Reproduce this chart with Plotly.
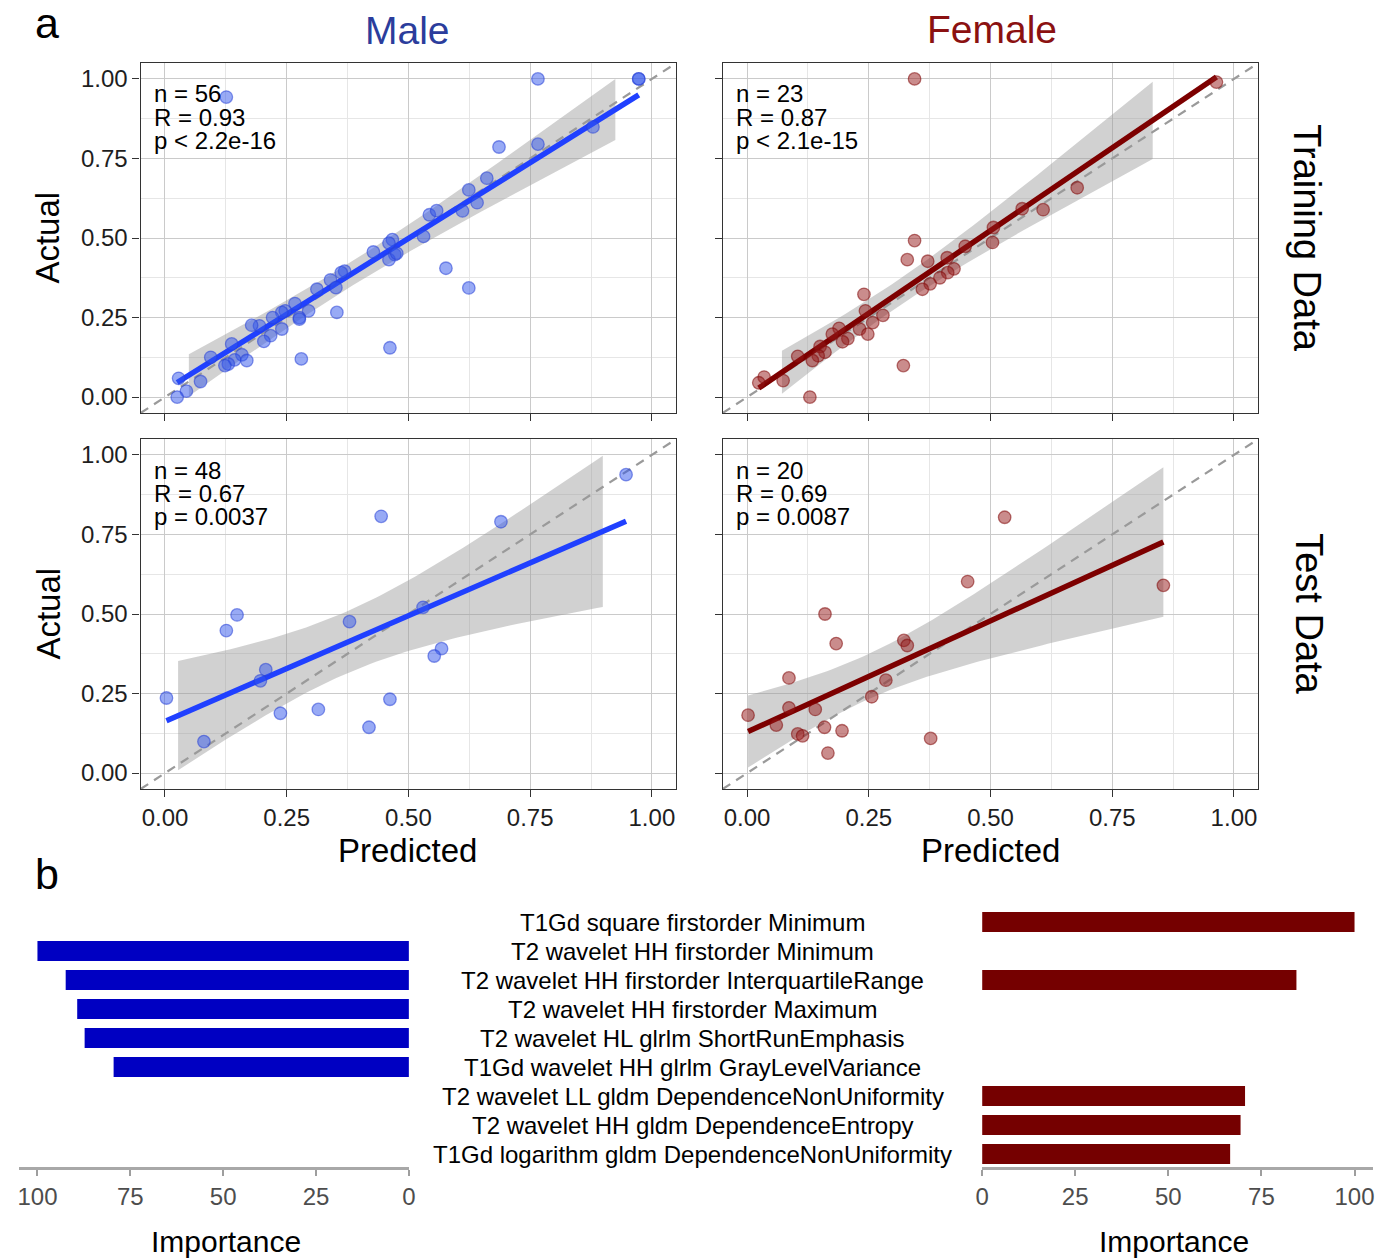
import numpy as np
import plotly.graph_objects as go

W, H = 1395, 1259
FONT = "Liberation Sans, Arial, sans-serif"

# ---------------- DATA ----------------
male_train_pred = [0.126, 0.766, 0.973, 0.973, 0.686, 0.766, 0.879, 0.661, 0.624, 0.641,
                   0.611, 0.543, 0.558, 0.531, 0.577, 0.624, 0.467, 0.460, 0.472, 0.460,
                   0.428, 0.462, 0.369, 0.362, 0.340, 0.351, 0.312, 0.353, 0.295, 0.267,
                   0.276, 0.276, 0.247, 0.240, 0.221, 0.240, 0.217, 0.203, 0.194, 0.178,
                   0.280, 0.137, 0.158, 0.143, 0.130, 0.123, 0.168, 0.094, 0.073, 0.028,
                   0.044, 0.025, 0.476]
male_train_act = [0.943, 1.000, 1.000, 1.000, 0.786, 0.795, 0.849, 0.688, 0.651, 0.611,
                  0.585, 0.573, 0.586, 0.505, 0.405, 0.343, 0.495, 0.484, 0.448, 0.432,
                  0.456, 0.155, 0.396, 0.391, 0.368, 0.344, 0.339, 0.266, 0.271, 0.294,
                  0.250, 0.245, 0.271, 0.266, 0.250, 0.214, 0.193, 0.175, 0.224, 0.226,
                  0.120, 0.167, 0.133, 0.117, 0.104, 0.099, 0.115, 0.125, 0.049, 0.059,
                  0.019, 0.000, 0.452]

female_train_pred = [0.344, 0.964, 0.678, 0.608, 0.565, 0.506, 0.504, 0.448, 0.344, 0.329,
                     0.371, 0.411, 0.425, 0.412, 0.396, 0.376, 0.360, 0.240, 0.243, 0.279,
                     0.258, 0.231, 0.248, 0.189, 0.175, 0.207, 0.196, 0.321, 0.150, 0.160,
                     0.146, 0.134, 0.104, 0.074, 0.035, 0.024, 0.129]
female_train_act = [1.000, 0.990, 0.658, 0.589, 0.592, 0.533, 0.486, 0.474, 0.492, 0.432,
                    0.427, 0.438, 0.403, 0.391, 0.375, 0.356, 0.339, 0.323, 0.271, 0.257,
                    0.234, 0.214, 0.198, 0.216, 0.198, 0.184, 0.174, 0.099, 0.159, 0.141,
                    0.130, 0.115, 0.128, 0.052, 0.063, 0.045, 0.000]

male_test_pred = [0.947, 0.444, 0.690, 0.530, 0.379, 0.148, 0.126, 0.568, 0.553, 0.207,
                  0.196, 0.003, 0.462, 0.237, 0.315, 0.419, 0.080]
male_test_act = [0.938, 0.807, 0.790, 0.521, 0.476, 0.497, 0.448, 0.391, 0.368, 0.325,
                 0.290, 0.236, 0.232, 0.188, 0.200, 0.144, 0.099]

female_test_pred = [0.529, 0.453, 0.855, 0.160, 0.183, 0.322, 0.329, 0.086, 0.285, 0.256,
                    0.086, 0.140, 0.002, 0.060, 0.159, 0.195, 0.104, 0.114, 0.377, 0.166]
female_test_act = [0.804, 0.602, 0.590, 0.500, 0.407, 0.417, 0.401, 0.299, 0.292, 0.240,
                   0.205, 0.200, 0.182, 0.151, 0.144, 0.133, 0.123, 0.117, 0.109, 0.063]

stats_n = ["n = 56", "n = 23", "n = 48", "n = 20"]
stats_r = ["R = 0.93", "R = 0.87", "R = 0.67", "R = 0.69"]
stats_p = ["p < 2.2e-16", "p < 2.1e-15", "p = 0.0037", "p = 0.0087"]

axis_ticks = [0.0, 0.25, 0.5, 0.75, 1.0]
axis_minor = [0.125, 0.375, 0.625, 0.875]

features = ["T1Gd square firstorder Minimum",
            "T2 wavelet HH firstorder Minimum",
            "T2 wavelet HH firstorder InterquartileRange",
            "T2 wavelet HH firstorder Maximum",
            "T2 wavelet HL glrlm ShortRunEmphasis",
            "T1Gd wavelet HH glrlm GrayLevelVariance",
            "T2 wavelet LL gldm DependenceNonUniformity",
            "T2 wavelet HH gldm DependenceEntropy",
            "T1Gd logarithm gldm DependenceNonUniformity"]
male_features = ["T2 wavelet HH firstorder Minimum",
                 "T2 wavelet HH firstorder InterquartileRange",
                 "T2 wavelet HH firstorder Maximum",
                 "T2 wavelet HL glrlm ShortRunEmphasis",
                 "T1Gd wavelet HH glrlm GrayLevelVariance"]
male_importance = [100.0, 92.4, 89.3, 87.3, 79.5]
female_features = ["T1Gd square firstorder Minimum",
                   "T2 wavelet HH firstorder InterquartileRange",
                   "T2 wavelet LL gldm DependenceNonUniformity",
                   "T2 wavelet HH gldm DependenceEntropy",
                   "T1Gd logarithm gldm DependenceNonUniformity"]
female_importance = [100.0, 84.4, 70.6, 69.4, 66.6]
importance_ticks = [0, 25, 50, 75, 100]

# ---------------- STYLE ----------------
MALE_PT = "rgba(50,85,235,0.5)"
MALE_PT_LINE = "rgba(40,65,215,0.55)"
MALE_LINE = "#2040ff"
FEMALE_PT = "rgba(150,25,25,0.5)"
FEMALE_PT_LINE = "rgba(130,10,10,0.55)"
FEMALE_LINE = "#7d0000"
MALE_TITLE = "#2b3d9c"
FEMALE_TITLE = "#8b1111"
MALE_BAR = "#0000c2"
FEMALE_BAR = "#750000"


def px(xp):
    return xp / W


def py(yp):
    return 1 - yp / H


def t975(df):
    z = 1.959964
    g1 = (z ** 3 + z) / 4
    g2 = (5 * z ** 5 + 16 * z ** 3 + 3 * z) / 96
    g3 = (3 * z ** 7 + 19 * z ** 5 + 17 * z ** 3 - 15 * z) / 384
    return z + g1 / df + g2 / df ** 2 + g3 / df ** 3


def fit_band(x, y):
    x = np.asarray(x, float)
    y = np.asarray(y, float)
    n = len(x)
    b, a = np.polyfit(x, y, 1)
    xg = np.linspace(x.min(), x.max(), 80)
    yh = a + b * xg
    res = y - (a + b * x)
    s = np.sqrt((res ** 2).sum() / (n - 2))
    sxx = ((x - x.mean()) ** 2).sum()
    se = s * np.sqrt(1.0 / n + (xg - x.mean()) ** 2 / sxx)
    t = t975(n - 2)
    return xg, yh, yh - t * se, yh + t * se


# panel pixel boxes: (left, right, top, bottom)
panels = [
    dict(box=(135, 676, 63, 413), x=male_train_pred, y=male_train_act, pt=MALE_PT, ptl=MALE_PT_LINE, line=MALE_LINE, xlab=False, ylab=True),
    dict(box=(723, 1264, 63, 413), x=female_train_pred, y=female_train_act, pt=FEMALE_PT, ptl=FEMALE_PT_LINE, line=FEMALE_LINE, xlab=False, ylab=False),
    dict(box=(135, 676, 439, 789), x=male_test_pred, y=male_test_act, pt=MALE_PT, ptl=MALE_PT_LINE, line=MALE_LINE, xlab=True, ylab=True),
    dict(box=(723, 1264, 439, 789), x=female_test_pred, y=female_test_act, pt=FEMALE_PT, ptl=FEMALE_PT_LINE, line=FEMALE_LINE, xlab=True, ylab=False),
]

fig = go.Figure()
layout = dict(width=W, height=H, margin=dict(l=0, r=0, t=0, b=0),
              paper_bgcolor="white", plot_bgcolor="white", showlegend=False,
              font=dict(family=FONT, color="black"))
annotations = []

for i, p in enumerate(panels):
    k = i + 1
    xs = "x" if k == 1 else f"x{k}"
    ys = "y" if k == 1 else f"y{k}"
    l, r, t, b = p["box"]
    common = dict(range=[-0.05, 1.05], tickvals=axis_ticks, tickformat=".2f",
                  showgrid=True, gridcolor="#cacaca", gridwidth=1.2,
                  minor=dict(tickvals=axis_minor, showgrid=True, gridcolor="#e6e6e6", gridwidth=1, ticks=""),
                  showline=True, mirror=True, linecolor="#333333", linewidth=1.4,
                  ticks="outside", ticklen=7, tickwidth=1.3, tickcolor="#333333",
                  zeroline=False, tickfont=dict(size=24, color="#1e1e1e", family=FONT))
    layout["xaxis" if k == 1 else f"xaxis{k}"] = dict(common, domain=[px(l), px(r)], anchor=ys,
                                                     showticklabels=p["xlab"])
    layout["yaxis" if k == 1 else f"yaxis{k}"] = dict(common, domain=[py(b), py(t)], anchor=xs,
                                                     showticklabels=p["ylab"])

    xg, yh, lo, hi = fit_band(p["x"], p["y"])
    keep = (lo >= 0) & (hi <= 1)
    rx = np.concatenate([xg[keep], xg[keep][::-1]])
    ry = np.concatenate([hi[keep], lo[keep][::-1]])
    fig.add_trace(go.Scatter(x=rx, y=ry, fill="toself", fillcolor="rgba(153,153,153,0.45)",
                             line=dict(width=0), mode="lines", xaxis=xs, yaxis=ys, hoverinfo="skip"))
    fig.add_trace(go.Scatter(x=[-0.05, 1.05], y=[-0.05, 1.05], mode="lines",
                             line=dict(color="#9a9a9a", width=2.2, dash="9px,7px"),
                             xaxis=xs, yaxis=ys, hoverinfo="skip"))
    fig.add_trace(go.Scatter(x=xg, y=yh, mode="lines", line=dict(color=p["line"], width=5.5),
                             xaxis=xs, yaxis=ys))
    fig.add_trace(go.Scatter(x=p["x"], y=p["y"], mode="markers",
                             marker=dict(size=12.5, color=p["pt"], line=dict(color=p["ptl"], width=1.3)),
                             xaxis=xs, yaxis=ys))
    for j, txt in enumerate([stats_n[i], stats_r[i], stats_p[i]]):
        annotations.append(dict(text=txt, x=px(l + 11), y=py(t + 31 + 23.3 * j), xref="paper", yref="paper",
                                xanchor="left", yanchor="middle", showarrow=False,
                                font=dict(size=24, color="black", family=FONT)))

# Titles / labels
extra = [
    dict(text="Male", x=px(405), y=py(30), font=dict(size=39, color=MALE_TITLE, family=FONT)),
    dict(text="Female", x=px(995), y=py(29), font=dict(size=39, color=FEMALE_TITLE, family=FONT)),
    dict(text="a", x=px(40), y=py(23), font=dict(size=43, color="black", family=FONT)),
    dict(text="b", x=px(40), y=py(874), font=dict(size=43, color="black", family=FONT)),
    dict(text="Training Data", x=px(1313), y=py(238), textangle=90, font=dict(size=38, color="black", family=FONT)),
    dict(text="Test Data", x=px(1315), y=py(614), textangle=90, font=dict(size=38, color="black", family=FONT)),
    dict(text="Actual", x=px(41), y=py(238), textangle=-90, font=dict(size=33, color="black", family=FONT)),
    dict(text="Actual", x=px(41), y=py(614), textangle=-90, font=dict(size=33, color="black", family=FONT)),
    dict(text="Predicted", x=px(405), y=py(850), font=dict(size=33, color="black", family=FONT)),
    dict(text="Predicted", x=px(993), y=py(850), font=dict(size=33, color="black", family=FONT)),
    dict(text="Importance", x=px(221), y=py(1241), font=dict(size=30, color="black", family=FONT)),
    dict(text="Importance", x=px(1179), y=py(1241), font=dict(size=30, color="black", family=FONT)),
]
for a in extra:
    a.update(xref="paper", yref="paper", showarrow=False, xanchor="center", yanchor="middle")
annotations += extra

# ---------------- Bars ----------------
bar_axis = dict(ticks="outside", ticklen=6, tickwidth=2, tickcolor="#9e9e9e",
                showline=True, linecolor="#a8a8a8", linewidth=2.5, showgrid=False, zeroline=False,
                tickvals=importance_ticks, tickfont=dict(size=24, color="#4d4d4d", family=FONT))
cat_axis = dict(type="category", categoryorder="array", categoryarray=features,
                range=[8.448, -0.6], visible=False, showgrid=False, zeroline=False,
                domain=[py(1167), py(904.6)])
layout["xaxis5"] = dict(bar_axis, domain=[px(12), px(406)], range=[105, 0], anchor="y5")
layout["yaxis5"] = dict(cat_axis, anchor="x5")
layout["xaxis6"] = dict(bar_axis, domain=[px(985), px(1380)], range=[0, 105], anchor="y6")
layout["yaxis6"] = dict(cat_axis, anchor="x6")

fig.add_trace(go.Bar(x=male_importance, y=male_features, orientation="h", width=0.69,
                     marker=dict(color=MALE_BAR, line=dict(width=0)), xaxis="x5", yaxis="y5"))
fig.add_trace(go.Bar(x=female_importance, y=female_features, orientation="h", width=0.69,
                     marker=dict(color=FEMALE_BAR, line=dict(width=0)), xaxis="x6", yaxis="y6"))

for f in features:
    annotations.append(dict(text=f, x=px(692.5), y=f, xref="paper", yref="y5", xanchor="center",
                            yanchor="middle", showarrow=False, font=dict(size=24, color="black", family=FONT)))

layout["annotations"] = annotations
fig.update_layout(**layout)
fig.write_html("out.html", config={"displayModeBar": False},
               post_script="document.body.style.margin='0';document.body.style.overflow='hidden';")
